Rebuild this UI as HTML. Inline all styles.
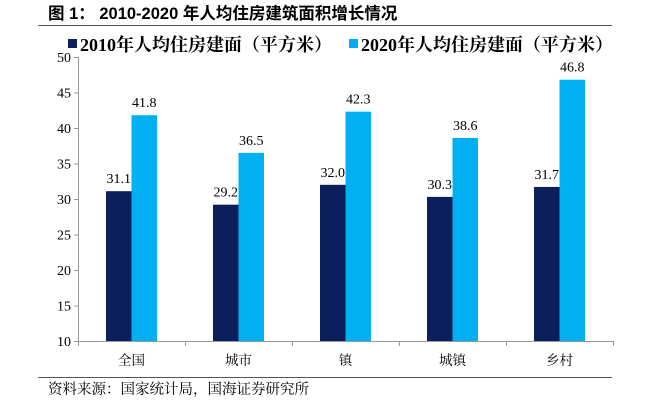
<!DOCTYPE html>
<html><head><meta charset="utf-8"><style>
body{margin:0;background:#fff;width:651px;height:400px;overflow:hidden;font-family:"Liberation Serif","Noto Serif CJK SC",serif}
</style></head><body>
<svg width="651" height="400" xmlns="http://www.w3.org/2000/svg">
<text x="48" y="19" font-family="Liberation Sans,Noto Sans CJK SC,sans-serif" font-weight="bold" font-size="16.5" fill="#000">图 1： 2010-2020 年人均住房建筑面积增长情况</text>
<line x1="38" y1="25.5" x2="612" y2="25.5" stroke="#555" stroke-width="1"/>
<g id="legend">
<rect x="68" y="39" width="9" height="9" fill="#0c1f5c"/>
<text x="80" y="51" font-size="18" font-weight="bold" font-family="Liberation Serif,Noto Serif CJK SC,serif">2010年人均住房建面（平方米）</text>
<rect x="349" y="39" width="9" height="9" fill="#00b0f0"/>
<text x="361" y="51" font-size="18" font-weight="bold" font-family="Liberation Serif,Noto Serif CJK SC,serif">2020年人均住房建面（平方米）</text>
</g>
<g id="plot"></g>
<line x1="38" y1="377.5" x2="612" y2="377.5" stroke="#555" stroke-width="1"/>
<text x="48" y="394" font-size="14.5" font-family="Liberation Serif,Noto Serif CJK SC,serif">资料来源：国家统计局，国海证券研究所</text>
</svg>
<script>
const categories=["全国","城市","镇","城镇","乡村"];
const values2010=[31.1,29.2,32.0,30.3,31.7];
const values2020=[41.8,36.5,42.3,38.6,46.8];
const yTicks=[10,15,20,25,30,35,40,45,50];
const NS="http://www.w3.org/2000/svg";
const g=document.getElementById('plot');
const x0=78,cw=107,yMin=10,yMax=50,yb=341,yt=57;
const y=v=>yb-(v-yMin)/(yMax-yMin)*(yb-yt);
function mk(t,a){const e=document.createElementNS(NS,t);for(const k in a)e.setAttribute(k,a[k]);g.appendChild(e);return e;}
let ax=mk('line',{x1:x0+.5,y1:yt,x2:x0+.5,y2:yb,stroke:'#999'});


let bx=mk('line',{x1:x0,y1:yb+.5,x2:x0+cw*categories.length,y2:yb+.5,stroke:'#999'});


yTicks.forEach(v=>{
 let t=mk('line',{x1:x0-4,y1:y(v)+.5,x2:x0,y2:y(v)+.5,stroke:'#999'});
 
 
 let l=mk('text',{x:x0-7,y:y(v)+5,'text-anchor':'end','font-size':14});
 l.textContent=v;
 
 
});
for(let i=0;i<=categories.length;i++){
 let t=mk('line',{x1:x0+cw*i+.5,y1:yb,x2:x0+cw*i+.5,y2:yb+5,stroke:'#999'});
 
 
}
const bw=25.5;
categories.forEach((c,i)=>{
 const cx=x0+cw*(i+.5);
 [[values2010,'#0c1f5c',cx-bw,'2010'],[values2020,'#00b0f0',cx,'2020']].forEach(([arr,col,bx0,s])=>{
  const v=arr[i];
  let r=mk('rect',{x:bx0,y:y(v),width:bw,height:yb-y(v),fill:col});
  
  
  let t=mk('text',{x:bx0+bw/2,y:y(v)-8,'text-anchor':'middle','font-size':14});
  t.textContent=v.toFixed(1);
  
  
 });
 let l=mk('text',{x:cx,y:365,'text-anchor':'middle','font-size':13.5});
 l.textContent=c;
 
 
});
</script>
</body></html>
